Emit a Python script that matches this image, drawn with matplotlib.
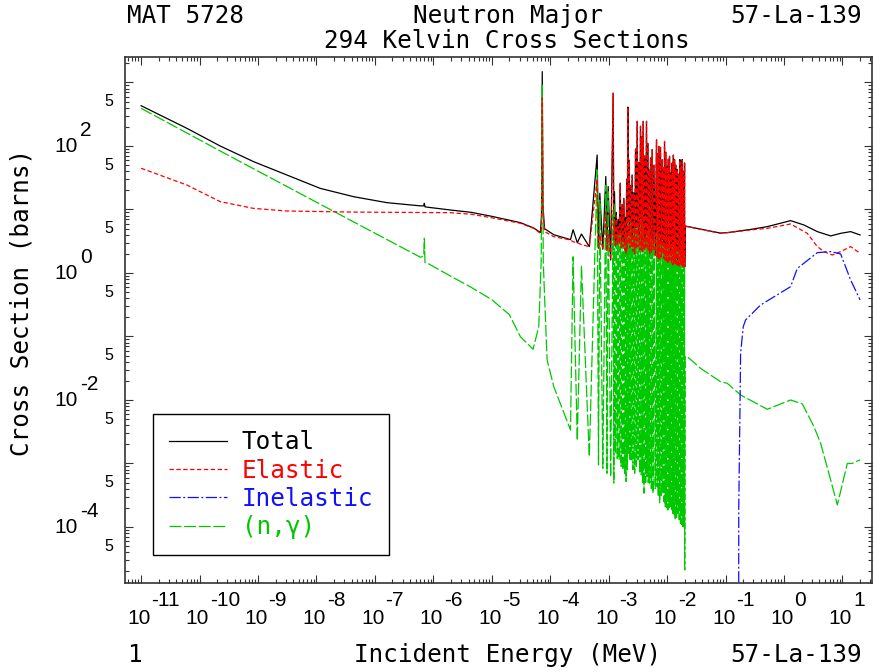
import matplotlib
matplotlib.use("Agg")
import matplotlib.pyplot as plt
import numpy as np
from matplotlib import font_manager
from matplotlib.ticker import LogLocator, NullFormatter

# ---- data (MeV, barns) ----
# smooth part below the resonance forest
tot_E_lo = [1e-11, 6.05e-11, 2.25e-10, 8.38e-10, 3.12e-9, 1.16e-8, 4.32e-8, 1.61e-7,
            5.99e-7, 6.85e-7, 7.01e-7, 7.2e-7, 8.32e-7, 1.95e-6, 4.5e-6, 1e-5, 3.09e-5,
            5.22e-5, 6.79e-5, 7.1e-5, 7.3e-5, 7.5e-5, 7.96e-5, 1.15e-4, 2.22e-4]
tot_lo = [431, 190, 100, 56.7, 34.9, 21.5, 15.9, 12.8,
          11.4, 11.4, 12.5, 11.0, 10.8, 9.82, 9.0, 7.8, 6.2,
          5.1, 4.35, 8.0, 1480, 12.0, 5.0, 4.0, 3.35]

el_E_lo = [1e-11, 6.05e-11, 2.25e-10, 8.38e-10, 3.12e-9, 4.32e-8, 1.95e-6, 4.5e-6,
           1e-5, 3.09e-5, 5.22e-5, 6.79e-5, 7.1e-5, 7.3e-5, 7.5e-5, 7.96e-5, 1.15e-4, 2.22e-4]
el_lo = [44.6, 24.3, 13.3, 10.4, 9.46, 9.1, 8.9, 8.4,
         7.4, 6.06, 5.05, 4.21, 5.0, 570, 10.0, 4.5, 3.73, 3.31]

cap_E_lo = [1e-11, 2.25e-10, 1.16e-8, 5.99e-7, 6.85e-7, 7.01e-7, 7.2e-7, 8.32e-7,
            1.95e-6, 4.5e-6, 1e-5, 2e-5, 3.09e-5, 5.09e-5, 6.36e-5, 7.0e-5, 7.3e-5,
            7.6e-5, 7.96e-5, 8.84e-5, 1.15e-4, 2.22e-4]
cap_lo = [392, 83.4, 12.1, 1.77, 1.85, 3.52, 1.45, 1.39,
          0.897, 0.59, 0.38, 0.22, 0.099, 0.063, 0.143, 1.5, 913,
          1.5, 0.478, 0.0427, 0.0162, 0.00337]

# resolved resonances: energy and peak heights
res_E = [2.46e-4, 3.42e-4, 6.35e-4, 7.05e-4, 8.93e-4, 9.79e-4, 1.193e-3, 1.257e-3,
         1.35e-3, 1.452e-3, 1.57e-3, 1.70e-3, 1.82e-3, 1.94e-3, 2.03e-3, 2.127e-3,
         2.24e-3, 2.362e-3, 2.52e-3, 2.694e-3, 2.88e-3, 3.073e-3, 3.28e-3, 3.503e-3,
         3.70e-3, 3.892e-3, 4.15e-3, 4.437e-3, 4.65e-3, 4.865e-3, 5.20e-3, 5.549e-3,
         5.95e-3, 6.584e-3, 6.90e-3, 7.217e-3, 7.70e-3, 8.231e-3, 8.60e-3, 9.025e-3,
         9.50e-3, 1.003e-2, 1.05e-2, 1.10e-2, 1.16e-2, 1.221e-2, 1.28e-2, 1.339e-2,
         1.41e-2, 1.487e-2, 1.57e-2, 1.652e-2, 1.73e-2, 1.811e-2, 1.90e-2, 1.985e-2]
res_tot = [4.8, 4.1, 72, 18, 33, 23, 680, 19,
           9, 7.0, 26, 12, 15, 7.5, 30, 410,
           60, 24, 35, 18.5, 90, 245, 55, 205,
           140, 245, 70, 245, 110, 43, 65, 88,
           50, 125, 75, 99, 95, 61, 45, 118,
           80, 48, 62, 69, 38, 54, 72, 61,
           50, 43, 36, 61, 48, 61, 40, 54]
res_el = [3.1, 2.8, 30, 4.0, 9.0, 4.0, 675, 6.5,
          8, 5.4, 25, 11, 14, 6.1, 29, 405,
          58, 23, 34, 17, 88, 242, 54, 202,
          138, 242, 68, 242, 108, 42, 64, 86,
          49, 124, 74, 98, 94, 60, 44, 117,
          79, 47, 61, 68, 37, 53, 71, 60,
          49, 42, 35, 60, 47, 60, 39, 53]
res_cap = [1.8, 1.3, 42, 14, 24, 19, 9.8, 12.5,
           3.0, 4.0, 4.0, 3.0, 3.0, 5.0, 3.5, 7.7,
           4.5, 6.0, 3.5, 5.0, 5.0, 6.0, 4.0, 7.0,
           4.5, 5.4, 3.5, 4.2, 4.0, 5.4, 3.5, 3.3,
           3.0, 4.2, 3.2, 3.7, 3.0, 3.3, 2.8, 2.9,
           2.5, 2.6, 2.6, 3.3, 2.2, 2.8, 2.4, 2.6,
           2.0, 2.2, 2.1, 2.4, 1.9, 2.0, 1.7, 1.8]
# minima after each resonance (last one = end of resolved range)
el_valley = [3.0, 2.6, 2.45, 2.36, 2.25, 1.6, 3.3, 2.6,
             2.8, 2.9, 2.5, 2.6, 2.3, 2.0, 2.4, 2.9,
             2.5, 2.6, 2.2, 2.0, 2.4, 2.6, 2.3, 2.3,
             2.2, 2.3, 2.4, 2.6, 2.2, 2.0, 2.1, 2.3,
             1.9, 1.8, 1.7, 1.6, 1.8, 2.0, 1.7, 1.6,
             1.5, 1.4, 1.5, 1.6, 1.4, 1.34, 1.4, 1.42,
             1.3, 1.26, 1.3, 1.34, 1.28, 1.26, 1.25, 1.26]
cap_valley = [0.0023, 0.00128, 0.00095, 0.00084, 0.00070, 0.00062, 0.00049, 0.00145,
              0.0012, 0.00114, 0.0009, 0.00079, 0.0007, 0.00052, 0.0008, 0.00145,
              0.0011, 0.00114, 0.0008, 0.00070, 0.0009, 0.00114, 0.0007, 0.00066,
              0.0005, 0.00034, 0.0005, 0.00062, 0.0005, 0.00049, 0.0004, 0.00034,
              0.0004, 0.00043, 0.0003, 0.00024, 0.0003, 0.00034, 0.00025, 0.00021,
              0.0002, 0.000185, 0.0002, 0.00021, 0.00018, 0.000164, 0.00015, 0.000129,
              0.00014, 0.000164, 0.00013, 0.000114, 0.00011, 0.000101, 0.0001, 2.1e-5]
res_end_E = 2.0e-2

# smooth part above the resonance region
tot_E_hi = [2.03e-2, 2.21e-2, 3.73e-2, 8.2e-2, 0.1068, 0.268, 0.517, 1.297, 2.19, 3.71,
            6.28, 9.31, 13.8, 20]
tot_hi = [5.45, 5.42, 4.9, 4.25, 4.32, 4.85, 5.37, 6.67, 5.70, 4.48,
          3.83, 4.21, 4.48, 3.97]
el_E_hi = [2.03e-2, 2.21e-2, 3.73e-2, 8.2e-2, 0.1068, 0.268, 0.517, 1.297, 2.50, 3.71,
           4.83, 6.71, 9.31, 13.8, 20]
el_hi = [5.4, 5.37, 4.87, 4.21, 4.31, 4.76, 5.05, 5.91, 4.21, 2.60,
         2.17, 1.92, 2.17, 2.60, 2.04]
cap_E_hi = [2.03e-2, 2.21e-2, 3.73e-2, 8.2e-2, 0.1068, 0.1806, 0.517, 1.297, 2.06, 3.25,
            4.23, 6.28, 8.17, 12.1, 14.5, 20]
cap_hi = [0.048, 0.0481, 0.0315, 0.0194, 0.0183, 0.0120, 0.00713, 0.0100, 0.00865, 0.0038,
          0.00208, 5.5e-4, 2.22e-4, 1.0e-3, 1.0e-3, 1.14e-3]

inel_E = [0.1670, 0.1680, 0.176, 0.1806, 0.2007, 0.220, 0.397, 1.297, 1.687, 3.71,
          6.28, 9.31, 13.8, 20]
inel = [1e-9, 2e-4, 0.0062, 0.0543, 0.143, 0.182, 0.313, 0.609, 1.18, 2.09,
        2.17, 1.99, 0.776, 0.376]


def forest(peaks, valleys):
    mids = list(np.sqrt(np.array(res_E[:-1]) * np.array(res_E[1:]))) + [res_end_E]
    E, s = [], []
    for e, p, m, v in zip(res_E, peaks, mids, valleys):
        E += [e, m]
        s += [p, v]
    return E, s


tot_valley = [a + b for a, b in zip(el_valley, cap_valley)]

fE, fs = forest(res_tot, tot_valley)
tot_E = tot_E_lo + fE + tot_E_hi
tot = tot_lo + fs + tot_hi
fE, fs = forest(res_el, el_valley)
el_E = el_E_lo + fE + el_E_hi
el = el_lo + fs + el_hi
fE, fs = forest(res_cap, cap_valley)
cap_E = cap_E_lo + fE + cap_E_hi
cap = cap_lo + fs + cap_hi

_names = {f.name for f in font_manager.fontManager.ttflist}
if "Liberation Sans Narrow" in _names:
    SANS, SANS_SIZE = "Liberation Sans Narrow", 18
else:
    SANS, SANS_SIZE = "Liberation Sans", 15
MONO = "DejaVu Sans Mono"
PX = 0.72  # points per pixel at dpi 100

GREEN, RED, BLUE = "#00c800", "#ff0000", "#1010ff"

fig = plt.figure(figsize=(8.8, 6.72), dpi=100)
ax = fig.add_axes([125 / 880, 1 - 583 / 672, 747 / 880, 526 / 672])

ax.plot(tot_E, tot, color="black", lw=0.9, label="Total", zorder=2)
ax.plot(cap_E, cap, color=GREEN, lw=0.9, dashes=(9.5, 2.2), label="(n,\u03b3)", zorder=3)
ax.plot(el_E, el, color=RED, lw=0.9, dashes=(3.5, 2.0), label="Elastic", zorder=4)
ax.plot(inel_E, inel, color=BLUE, lw=0.9, dashes=(9, 2, 1.5, 2), label="Inelastic", zorder=5)

ax.set_xscale("log")
ax.set_yscale("log")
ax.set_xlim(5.3e-12, 32)
ax.set_ylim(1.31e-5, 2520)

for axis in (ax.xaxis, ax.yaxis):
    axis.set_major_locator(LogLocator(base=10, numticks=30))
    axis.set_minor_locator(LogLocator(base=10, subs=np.arange(2, 10), numticks=30))
    axis.set_major_formatter(NullFormatter())
    axis.set_minor_formatter(NullFormatter())
ax.tick_params(which="both", direction="in", top=True, right=True, width=0.8, color="#333333")
ax.tick_params(which="major", length=6)
ax.tick_params(which="minor", length=3)
for sp in ax.spines.values():
    sp.set_linewidth(1.2)
    sp.set_color("#333333")

# tick labels: "10" with a full-size exponent beside it
lab = dict(fontsize=SANS_SIZE, family=SANS, textcoords="offset points", va="center")
for e in range(-11, 2):
    ax.annotate("10", xy=(10.0 ** e, 0), xycoords=("data", "axes fraction"),
                xytext=(-2 * PX, -35 * PX), ha="center", **lab)
    ax.annotate(str(e), xy=(10.0 ** e, 0), xycoords=("data", "axes fraction"),
                xytext=(10.5 * PX, -18 * PX), ha="left", **lab)
for e in [2, 0, -2, -4]:
    ax.annotate("10", xy=(0, 10.0 ** e), xycoords=("axes fraction", "data"),
                xytext=(-47 * PX, -1 * PX), ha="right", **lab)
    ax.annotate(str(e), xy=(0, 10.0 ** e), xycoords=("axes fraction", "data"),
                xytext=(-45 * PX, 15 * PX), ha="left", **lab)
for e in range(-5, 3):
    ax.annotate("5", xy=(0, 5 * 10.0 ** e), xycoords=("axes fraction", "data"),
                xytext=(-12 * PX, 0), ha="right", fontsize=11.5, family=SANS,
                textcoords="offset points", va="center")

# header / footer text
txt = dict(family=MONO, fontsize=17.5, va="center")
fig.text(127 / 880, 1 - 16 / 672, "MAT 5728", ha="left", **txt)
fig.text(508 / 880, 1 - 16 / 672, "Neutron Major", ha="center", **txt)
fig.text(862 / 880, 1 - 16 / 672, "57-La-139", ha="right", **txt)
fig.text(507 / 880, 1 - 41 / 672, "294 Kelvin Cross Sections", ha="center", **txt)
fig.text(127 / 880, 1 - 655 / 672, "1", ha="left", **txt)
fig.text(508 / 880, 1 - 655 / 672, "Incident Energy (MeV)", ha="center", **txt)
fig.text(862 / 880, 1 - 655 / 672, "57-La-139", ha="right", **txt)
fig.text(22 / 880, 1 - 302 / 672, "Cross Section (barns)", ha="center", rotation=90, **txt)

handles, labels = ax.get_legend_handles_labels()
order = [0, 2, 3, 1]
leg = ax.legend([handles[i] for i in order], [labels[i] for i in order],
                loc="lower left", bbox_to_anchor=(0.0375, 0.053), borderaxespad=0,
                prop={"family": MONO, "size": 17.5}, handlelength=2.4, handletextpad=0.6,
                borderpad=0.65, labelspacing=0.18, fancybox=False, framealpha=1,
                edgecolor="black")
leg.get_frame().set_linewidth(1.0)
for t, c in zip(leg.get_texts(), ["black", RED, BLUE, GREEN]):
    t.set_color(c)

fig.savefig("out.png", dpi=100)
